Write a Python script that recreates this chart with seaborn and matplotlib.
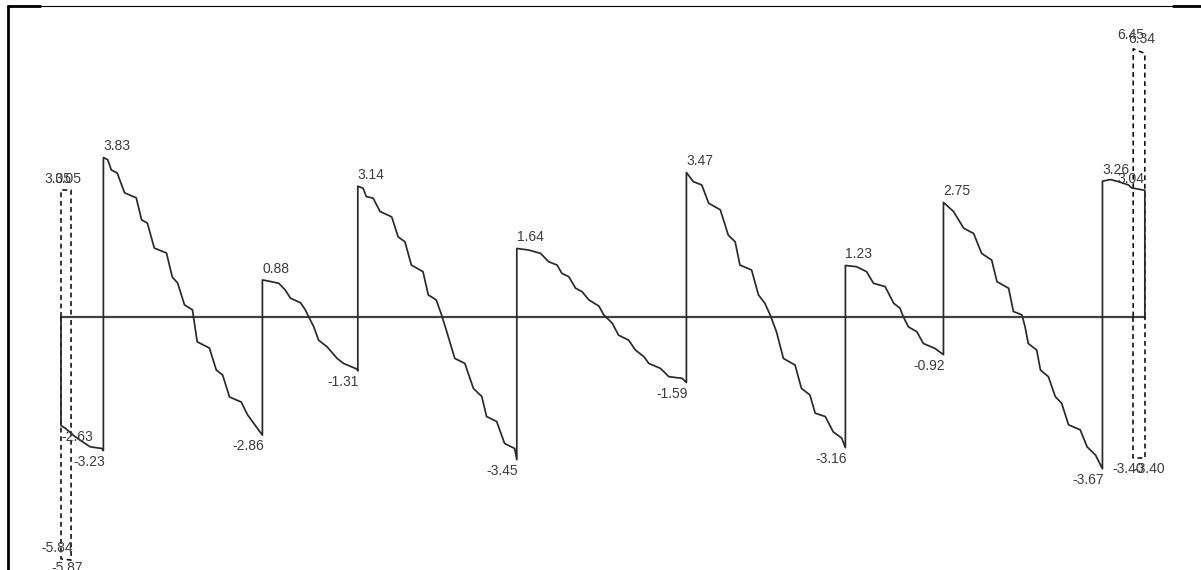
import matplotlib
matplotlib.use("Agg")
import matplotlib.pyplot as plt
import pandas as pd
import seaborn as sns
from matplotlib.lines import Line2D

# support positions along the beam (m)
supports = [0.0, 0.8, 3.8, 5.6, 8.6, 11.8, 14.8, 16.65, 19.65, 20.45]

# shear at the start and at the end of each span
v_start = [-2.63, 3.83, 0.88, 3.14, 1.64, 3.47, 1.23, 2.75, 3.26]
v_end = [-3.23, -2.86, -1.31, -3.45, -1.59, -3.16, -0.92, -3.67, 3.04]

# points inside each span: distance from span start, shear
span1_x = [0.08, 0.23, 0.36, 0.55, 0.77]
span1_v = [-2.69, -2.86, -2.98, -3.14, -3.18]
span2_x = [0.08, 0.15, 0.26, 0.40, 0.62, 0.72, 0.83, 0.96, 1.19, 1.30, 1.40, 1.53, 1.68, 1.77,
           2.00, 2.13, 2.25, 2.38, 2.60, 2.72]
span2_v = [3.78, 3.53, 3.46, 2.98, 2.86, 2.33, 2.25, 1.65, 1.53, 0.95, 0.81, 0.28, 0.16, -0.61,
           -0.76, -1.29, -1.41, -1.94, -2.06, -2.37]
span3_x = [0.09, 0.31, 0.43, 0.53, 0.72, 0.81, 0.87, 0.97, 1.06, 1.22, 1.41, 1.53, 1.79]
span3_v = [0.86, 0.80, 0.64, 0.44, 0.33, 0.16, 0.0, -0.25, -0.57, -0.73, -1.01, -1.13, -1.27]
span4_x = [0.10, 0.16, 0.29, 0.42, 0.64, 0.76, 0.89, 1.01, 1.23, 1.33, 1.48, 1.58, 1.67, 1.83,
           2.02, 2.18, 2.34, 2.43, 2.62, 2.77, 2.96]
span4_v = [3.09, 2.89, 2.85, 2.53, 2.40, 1.92, 1.80, 1.24, 1.08, 0.52, 0.40, 0.04, -0.33, -1.01,
           -1.13, -1.73, -1.93, -2.41, -2.53, -3.06, -3.18]
span5_x = [0.23, 0.45, 0.60, 0.76, 0.85, 0.98, 1.11, 1.23, 1.36, 1.55, 1.64, 1.80, 1.92, 2.11,
           2.24, 2.40, 2.49, 2.71, 2.87, 3.12]
span5_v = [1.60, 1.52, 1.32, 1.24, 1.04, 0.96, 0.68, 0.60, 0.40, 0.25, 0.04, -0.16, -0.45, -0.57,
           -0.81, -0.97, -1.13, -1.25, -1.45, -1.49]
span6_x = [0.13, 0.29, 0.42, 0.64, 0.79, 0.92, 1.01, 1.23, 1.36, 1.48, 1.58, 1.70, 1.83, 2.05,
           2.17, 2.33, 2.43, 2.62, 2.77, 2.93]
span6_v = [3.25, 3.17, 2.73, 2.57, 1.96, 1.80, 1.24, 1.12, 0.52, 0.32, 0.04, -0.37, -1.01, -1.17,
           -1.73, -1.89, -2.33, -2.41, -2.78, -2.93]
span7_x = [0.21, 0.40, 0.53, 0.75, 0.91, 1.03, 1.09, 1.19, 1.35, 1.47, 1.69]
span7_v = [1.20, 1.08, 0.80, 0.72, 0.32, 0.20, 0.0, -0.25, -0.37, -0.65, -0.77]
span8_x = [0.19, 0.38, 0.57, 0.72, 0.91, 1.01, 1.23, 1.32, 1.48, 1.54, 1.60, 1.76, 1.83, 1.98,
           2.11, 2.23, 2.36, 2.58, 2.71, 2.87]
span8_v = [2.53, 2.13, 2.00, 1.52, 1.36, 0.84, 0.68, 0.12, 0.04, -0.25, -0.65, -0.81, -1.29, -1.45,
           -1.93, -2.09, -2.61, -2.73, -3.14, -3.34]
span9_x = [0.15, 0.30, 0.49, 0.55]
span9_v = [3.30, 3.25, 3.17, 3.10]

# envelope (dashed) at both ends
env_left_x = [0.0, 0.19]
env_left_max = [3.05, 3.05]
env_left_min = [-5.84, -5.87]
env_right_x = [20.23, 20.45]
env_right_max = [6.45, 6.34]
env_right_min = [-3.40, -3.40]

span_x = [span1_x, span2_x, span3_x, span4_x, span5_x, span6_x, span7_x, span8_x, span9_x]
span_v = [span1_v, span2_v, span3_v, span4_v, span5_v, span6_v, span7_v, span8_v, span9_v]

line_x, line_v = [supports[0]], [0.0]
for i in range(len(v_start)):
    x0, x1 = supports[i], supports[i + 1]
    line_x += [x0] + [x0 + d for d in span_x[i]] + [x1]
    line_v += [v_start[i]] + span_v[i] + [v_end[i]]
line_x.append(supports[-1])
line_v.append(0.0)
shear = pd.DataFrame({"x": line_x, "v": line_v})

sns.set_theme(style="white")
plt.rcParams["font.family"] = ["Liberation Sans", "DejaVu Sans"]

fig = plt.figure(figsize=(12.01, 5.70), dpi=100)
ax = fig.add_axes([0, 0, 1, 1])

px_per_m = 53.0
px_per_v = 41.5
ax.set_xlim(-61 / px_per_m, (1201 - 61) / px_per_m)
ax.set_ylim(-(570 - 316.5) / px_per_v, 316.5 / px_per_v)
ax.set_axis_off()

line_col = "#2a2a2a"
text_col = "#3c3c3c"

# base line
sns.lineplot(x=[supports[0], supports[-1]], y=[0, 0], color="#404040", lw=1.6,
             sort=False, estimator=None, ax=ax)

# dashed envelopes
for ex, emax, emin in [(env_left_x, env_left_max, env_left_min),
                       (env_right_x, env_right_max, env_right_min)]:
    for ev in (emax, emin):
        sns.lineplot(x=[ex[0], ex[0], ex[1], ex[1]], y=[0, ev[0], ev[1], 0],
                     color="black", lw=1.1, linestyle=(0, (3.2, 2.4)),
                     sort=False, estimator=None, ax=ax)

# shear diagram
sns.lineplot(data=shear, x="x", y="v", color=line_col, lw=1.25,
             sort=False, estimator=None, ax=ax)

fs = 10


def label(x, v, ha, dx, dy):
    ax.annotate(f"{v:.2f}", (x, v), xytext=(dx, dy), textcoords="offset points",
                ha=ha, va="bottom" if dy > 0 else "top", fontsize=fs, color=text_col)


for i in range(len(v_start)):
    x0, x1 = supports[i], supports[i + 1]
    label(x0, v_start[i], "left", 0, 3 if v_start[i] > 0 else -3)
    label(x1, v_end[i], "right", 1 if v_end[i] < 0 else 0, 3 if v_end[i] > 0 else -3)

# envelope labels
for ex, ev, dy in [(env_left_x, env_left_max, 3), (env_right_x, env_right_max, 5)]:
    for x, v in zip(ex, ev):
        label(x, v, "center", -2, dy)
for x, v, dy in zip(env_left_x, env_left_min, [4, 0]):
    label(x, v, "center", -3, dy - 1)
label(env_right_x[0], env_right_min[0], "right", 8, -3)
label(env_right_x[1], env_right_min[1], "left", -8, -3)

# frame
fx = 7.5 / 1201
fy = 1 - 6 / 570
fig.add_artist(Line2D([fx, fx], [0, fy], transform=fig.transFigure, color="black", lw=2))
fig.add_artist(Line2D([fx, 1], [fy, fy], transform=fig.transFigure, color="black", lw=0.8))
fig.add_artist(Line2D([fx, 40 / 1201], [fy, fy], transform=fig.transFigure, color="black", lw=2))
fig.add_artist(Line2D([1173 / 1201, 1], [fy, fy], transform=fig.transFigure, color="black", lw=2))

fig.savefig("out.png", dpi=100)
